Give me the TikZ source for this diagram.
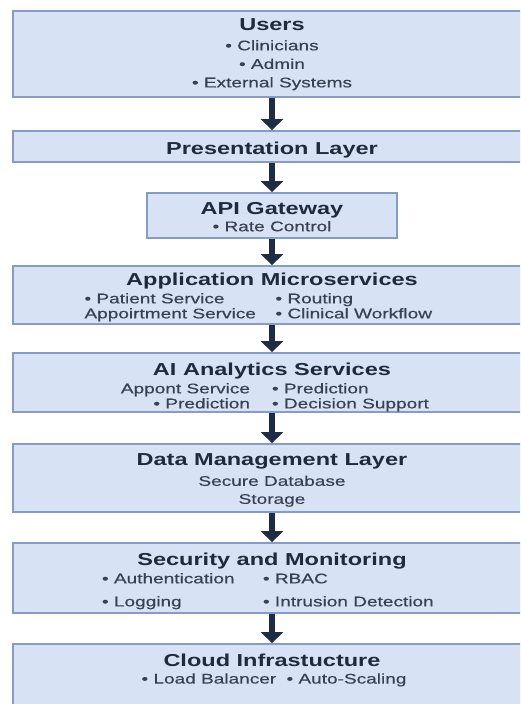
\documentclass[tikz,border=0pt]{standalone}
\usepackage{fontspec}
\usetikzlibrary{arrows.meta}

\newfontfamily\layerfont{Liberation Sans}[FakeStretch=1.36, UprightFeatures={FakeBold=0.4}]
\definecolor{boxFill}{HTML}{D7E3F4}
\definecolor{boxLine}{HTML}{849CC6}
\definecolor{arrowCol}{HTML}{1C2D44}
\definecolor{titleCol}{HTML}{1F2A3B}
\definecolor{itemCol}{HTML}{364252}

% layer title; the optional argument lifts the top of the text block
\newcommand{\layertitle}[2][0pt]{{\fontsize{17.3pt}{20pt}\selectfont\bfseries
  \color{titleCol}\rule{0pt}{\dimexpr12.6pt+#1\relax}#2}}
% two bullet columns on one line: [align of left column]{left width}{right width}{left}{right}
\newcommand{\twocol}[5][l]{\makebox[#2][#1]{#4}\makebox[#3][l]{#5}}

\begin{document}
\begin{tikzpicture}
[x=1pt, y=-1pt,
  layerDecorate/.style={draw=boxLine, fill=boxFill, line width=1.8pt, inner sep=0pt,
    minimum width=518pt, align=center, text=itemCol,
    font=\layerfont\fontsize{14pt}{18.5pt}\selectfont},%
  arrowDecorate/.style={-{Triangle[width=22pt,length=11pt]}, line width=5.5pt, draw=arrowCol}]
\useasboundingbox (0,0) rectangle (520,704);
\clip (0,0) rectangle (520,704);
\fill[white] (0,0) rectangle (520,704);
%% layers, top to bottom
\node (users) at (272,54) [layerDecorate, minimum height=86pt]
  {\layertitle{Users}\\[1.5pt] • Clinicians\\ • Admin\\ • External Systems};
\node (pres) at (272,146.5) [layerDecorate, minimum height=31pt]
  {\layertitle[6pt]{Presentation Layer}};
\node (api) at (272,215.5) [layerDecorate, minimum width=250pt, minimum height=45pt]
  {\layertitle[2pt]{API Gateway}\\[-1.5pt] • Rate Control};
\node (apps) at (272,295) [layerDecorate, minimum height=58pt]
  {\layertitle[4pt]{Application Microservices}\\[-0.5pt]
   \twocol{191pt}{184pt}{• Patient Service}{• Routing}\\[-3.5pt]
   \twocol{191pt}{184pt}{Appoirtment Service}{• Clinical Workflow}};
\node (ai) at (272,382.5) [layerDecorate, minimum height=59pt]
  {\layertitle[9pt]{AI Analytics Services}\\[-0.5pt]
   \twocol[r]{160pt}{160pt}{Appont Service\hspace{22pt}}{• Prediction}\\[-3.5pt]
   \twocol[r]{160pt}{160pt}{• Prediction\hspace{22pt}}{• Decision Support}};
\node (data) at (272,478) [layerDecorate, minimum height=68pt]
  {\layertitle[4pt]{Data Management Layer}\\[1.5pt] Secure Database\\[-0.5pt] Storage};
\node (sec) at (272,578) [layerDecorate, minimum height=70pt]
  {\layertitle[6pt]{Security and Monitoring}\\[-0.5pt]
   \twocol{161pt}{179pt}{• Authentication}{• RBAC}\\[4.5pt]
   \twocol{161pt}{179pt}{• Logging}{• Intrusion Detection}};
\node (cloud) at (272,689) [layerDecorate, minimum height=90pt]
  {\layertitle{Cloud Infrastucture}\\[-1.5pt]
   \hspace{4pt}• Load Balancer\hspace{5pt} • Auto-Scaling\\[22pt]\mbox{}};
%% arrows between the layers
\path
\foreach \startnode/\endnode in {
  users/pres, pres/api, api/apps, apps/ai, ai/data, data/sec, sec/cloud}
{
  (\startnode) edge[arrowDecorate] (\endnode)
};
\end{tikzpicture}
\end{document}
